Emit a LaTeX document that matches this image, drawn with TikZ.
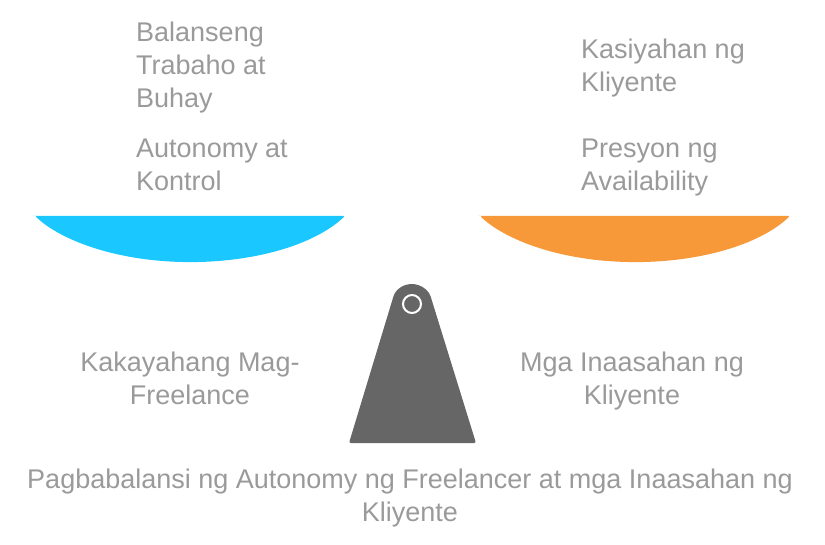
\documentclass[tikz,border=0pt]{standalone}
\usepackage{fontspec}
\setmainfont{Liberation Sans}
\usepackage{tikz}
\definecolor{panblue}{HTML}{1AC8FF}
\definecolor{panorange}{HTML}{F79839}
\definecolor{postgray}{HTML}{666666}
\definecolor{labelgray}{HTML}{9A9A9A}

\begin{document}
\begin{tikzpicture}[
      x=1pt, y=-1pt,
      label/.style={inner sep=0pt, text=labelgray, font=\fontsize{27}{33}\selectfont},
      leftlabel/.style={label, align=left, anchor=base west},
      midlabel/.style={label, align=center, anchor=base},
      pan/.style={rounded corners=2pt}
  ]
      \useasboundingbox (0,0) rectangle (825,545);

      % Pans
      \fill[panblue, pan] (35,216) -- (345,216)
          arc[start angle=27.65, end angle=152.35, x radius=175, y radius=85.9] -- cycle;
      \fill[panorange, pan] (480,216) -- (790,216)
          arc[start angle=27.65, end angle=152.35, x radius=175, y radius=85.9] -- cycle;

      % Fulcrum
      \fill[postgray, rounded corners=2pt] (349,443) -- (392.9,298.2)
          arc[start angle=196.9, end angle=343.1, radius=20] -- (476,443) -- cycle;
      \draw[white, line width=2pt] (412,304) circle[radius=9];

      % Left side labels (base = last line)
      \node[leftlabel] (work) at (136,108) {Balanseng\\Trabaho at\\Buhay};
      \node[leftlabel] (auto) at (136,191) {Autonomy at\\Kontrol};
      \node[midlabel] (free) at (190,405) {Kakayahang Mag-\\Freelance};

      % Right side labels
      \node[leftlabel] (satis) at (581,92) {Kasiyahan ng\\Kliyente};
      \node[leftlabel] (press) at (581,191) {Presyon ng\\Availability};
      \node[midlabel] (expect) at (632,405) {Mga Inaasahan ng\\Kliyente};

      % Title
      \node[midlabel] (title) at (410,521) {Pagbabalansi ng Autonomy ng Freelancer at mga Inaasahan ng\\Kliyente};

  \end{tikzpicture}
\end{document}
